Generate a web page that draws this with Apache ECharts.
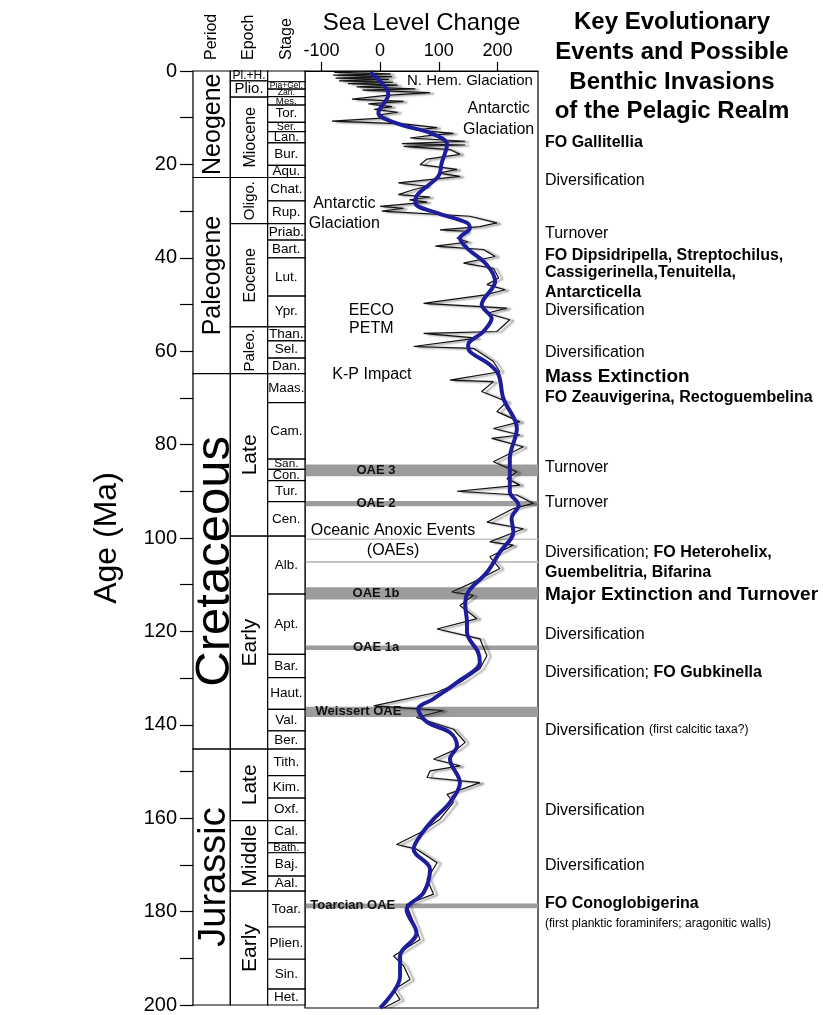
<!DOCTYPE html>
<html><head><meta charset="utf-8">
<script src="https://cdn.jsdelivr.net/npm/echarts@6/dist/echarts.min.js"></script>
<style>html,body{margin:0;padding:0;background:#fff}#c{width:823px;height:1015px}</style>
</head><body><div id="c"></div>
<script>
const FONT = '"Liberation Sans", Arial, Helvetica, sans-serif';

// ---------- axis ticks ----------
const ageTicks = [0,10,20,30,40,50,60,70,80,90,100,110,120,130,140,150,160,170,180,190,200];
const ageLabels = [0,20,40,60,80,100,120,140,160,180,200];
const seaTicks = [-100,0,100,200];

// ---------- time scale (Ma) ----------
const periods = [['Neogene',0,22.8],['Paleogene',22.8,64.8],['Cretaceous',64.8,145.2],['Jurassic',145.2,200]];
const epochs = [['Pl.+H.',0,2.1],['Plio.',2.1,5.6],['Miocene',5.6,22.8],['Oligo.',22.8,32.7],['Eocene',32.7,54.8],
  ['Paleo.',54.8,64.8],['Late',64.8,99.6],['Early',99.6,145.2],['Late',145.2,160.5],['Middle',160.5,175.6],['Early',175.6,200]];
const stages = [['',0,2.3],['Pia+Gel.',2.3,3.9],['Zan.',3.9,5.5],['Mes.',5.5,7.3],['Tor.',7.3,11.0],['Ser.',11.0,13.0],
  ['Lan.',13.0,15.4],['Bur.',15.4,20.2],['Aqu.',20.2,22.8],['Chat.',22.8,27.8],['Rup.',27.8,32.7],['Priab.',32.7,36.2],
  ['Bart.',36.2,40.0],['Lut.',40.0,48.2],['Ypr.',48.2,54.8],['Than.',54.8,57.8],['Sel.',57.8,61.5],['Dan.',61.5,64.8],
  ['Maas.',64.8,71.0],['Cam.',71.0,83.1],['San.',83.1,85.3],['Con.',85.3,87.7],['Tur.',87.7,92.2],['Cen.',92.2,99.6],
  ['Alb.',99.6,112.0],['Apt.',112.0,124.9],['Bar.',124.9,129.9],['Haut.',129.9,136.7],['Val.',136.7,141.3],['Ber.',141.3,145.2],
  ['Tith.',145.2,150.9],['Kim.',150.9,155.7],['Oxf.',155.7,160.5],['Cal.',160.5,165.3],['Bath.',165.3,167.4],['Baj.',167.4,172.4],
  ['Aal.',172.4,175.6],['Toar.',175.6,183.3],['Plien.',183.3,190.2],['Sin.',190.2,196.6],['Het.',196.6,200]];

// ---------- sea level (m) vs age (Ma) ----------
const shortTerm = [[-10,0],[-78,0.3],[18,0.6],[-80,0.9],[20,1.2],[-76,1.5],[15,1.8],[-70,2.1],[22,2.4],[-55,2.7],[30,3.0],
 [-40,3.4],[60,3.8],[-30,4.1],[85,4.6],[10,5.2],[-48,6.0],[40,6.5],[-20,7.0],[20,7.6],[-10,8.2],[30,8.8],[-5,9.4],[10,10.0],
 [-82,10.7],[40,11.3],[97,12.1],[60,12.6],[125,13.3],[90,13.7],[51,14.3],[145,15.0],[37,15.5],[145,15.8],[40,16.1],[120,16.8],
 [136,17.8],[80,18.8],[68,20.0],[131,21.0],[100,21.8],[136,22.5],[31,23.9],[80,24.6],[55,25.4],[31,26.4],[85,26.9],[50,27.5],
 [80,28.0],[0,28.9],[40,29.3],[3,29.9],[153,31],[199,32.4],[170,33.2],[102,33.9],[148,34.2],[131,35.7],[150,36.5],[94,37.4],
 [176,38.1],[196,39.6],[142,41],[193,42.1],[202,44.2],[182,45.6],[213,46.7],[179,47.8],[74,49.6],[216,50.6],[182,51.7],
 [221,53.1],[199,55.6],[74,56],[165,57],[57,58.8],[159,59.2],[193,62],[204,64.2],[119,66],[193,66.3],[173,68.4],[216,70.6],
 [199,72.7],[238,74.9],[193,76.3],[238,77.7],[190,78.4],[244,80.2],[193,83.4],[233,85.6],[216,87],[238,88.4],[131,89.7],
 [233,90.5],[261,92.3],[227,93.4],[182,96.3],[244,97.7],[187,100.5],[227,101.2],[187,103.7],[204,106.2],[159,109.1],
 [122,111.2],[159,111.9],[136,114.1],[165,116.9],[97,119.1],[170,121.2],[182,124.8],[170,127.6],[136,130.5],[97,132.6],
 [-11,135.5],[108,136.5],[62,138],[125,140.5],[145,143.3],[131,144.7],[91,146.9],[136,148.3],[85,149.4],[80,150.8],
 [170,151.9],[148,152.9],[114,154.4],[125,156.1],[102,159.7],[68,162.6],[28,165.1],[62,166.1],[97,169],[80,172.5],
 [91,175.7],[45,177.9],[57,181.8],[68,185.4],[23,188.9],[40,191],[51,193.9],[23,196.1],[34,198.2],[6,200]];
const longTerm = [[-17,0.3],[14,5],[-3,8.9],[34,11.4],[85,13.2],[114,15.7],[105,19.6],[99,22.5],[62,26.7],[60,28.2],[97,30.3],
 [148,32.4],[153,33.5],[136,35.7],[148,37.8],[182,41.4],[196,44.9],[173,49.9],[190,52.8],[176,55.6],[150,58.5],[153,59.9],
 [187,62.7],[202,64.9],[210,69.9],[233,76.3],[221,82.7],[221,89.8],[236,92.7],[224,95.5],[227,98.4],[204,102.7],[182,107],
 [150,111.2],[145,114.1],[148,117.6],[148,119.8],[167,124.1],[170,126.2],[131,130.5],[91,134],[65,136.2],[80,139],
 [119,141.2],[131,144],[119,146.9],[136,151.9],[119,156.1],[91,159.7],[68,163.3],[57,166.1],[85,170.4],[74,175.4],
 [45,179],[62,184],[34,188.9],[34,193.2],[0,200]];

// ---------- Oceanic anoxic events (Ma) ----------
const oaeBands = [[84.0,86.5,'OAE 3'],[91.8,92.9,'OAE 2'],[99.8,100.1,''],[104.6,105.0,''],[110.2,112.8,'OAE 1b'],
  [122.6,123.6,'OAE 1a'],[135.7,137.9,'Weissert OAE'],[177.7,178.7,'Toarcian OAE']];

// ---------- annotations inside plot [sea level, age, text] ----------
const plotNotes = [[153,2.1,'N. Hem. Glaciation'],[202,8.1,'Antarctic'],[202,12.4,'Glaciation'],[-61,28.2,'Antarctic'],
  [-61,32.5,'Glaciation'],[-15,51.2,'EECO'],[-15,54.9,'PETM'],[-14,64.9,'K-P Impact'],[22,98.0,'Oceanic Anoxic Events'],[22,102.3,'(OAEs)']];

// ---------- key events [age, text] ----------
const events = [
 [15.2,'{b|FO Gallitellia}'],[23.3,'{n|Diversification}'],[34.6,'{n|Turnover}'],
 [39.3,'{b|FO Dipsidripella, Streptochilus,}'],[43.1,'{b|Cassigerinella,Tenuitella,}'],[47.2,'{b|Antarcticella}'],
 [51.2,'{n|Diversification}'],[60.2,'{n|Diversification}'],[65.3,'{x|Mass Extinction}'],
 [69.8,'{b|FO Zeauvigerina, Rectoguembelina}'],[84.6,'{n|Turnover}'],[92.2,'{n|Turnover}'],
 [102.9,'{n|Diversification; }{b|FO Heterohelix,}'],[107.0,'{b|Guembelitria, Bifarina}'],
 [111.9,'{x|Major Extinction and Turnover}'],[120.4,'{n|Diversification}'],[128.5,'{n|Diversification; }{b|FO Gubkinella}'],
 [140.7,'{n|Diversification }{s|(first calcitic taxa?)}'],[157.8,'{n|Diversification}'],[169.6,'{n|Diversification}'],
 [177.7,'{b|FO Conoglobigerina}'],[182.1,'{s|(first planktic foraminifers; aragonitic walls)}']];

const titleLines = ['Key Evolutionary','Events and Possible','Benthic Invasions','of the Pelagic Realm'];
const columnHeads = ['Period','Epoch','Stage'];

// ---------- styles (kept apart from data) ----------
const periodFont = {Neogene:25, Paleogene:25, Cretaceous:49, Jurassic:38};
const epochFont = {'Pl.+H.':[12,false],'Plio.':[15,false],'Miocene':[16,true],'Oligo.':[15,true],'Eocene':[16,true],
  'Paleo.':[15,true],'Late':[21,true],'Early':[21,true],'Middle':[21,true]};
const oaeLabelPos = {'OAE 3':[-7,'center'],'OAE 2':[-7,'center'],'OAE 1b':[-7,'center'],'OAE 1a':[-7,'center'],
  'Weissert OAE':[-110,'left'],'Toarcian OAE':[-119,'left']};
const noteFont = {'N. Hem. Glaciation':15};
const X_MIN = -128, X_MAX = 269;

const cells = [];
periods.forEach(p => cells.push({col:0, name:p[0], s:p[1], e:p[2]}));
epochs.forEach(p => cells.push({col:1, name:p[0], s:p[1], e:p[2]}));
stages.forEach(p => cells.push({col:2, name:p[0], s:p[1], e:p[2]}));

const mctx = document.createElement('canvas').getContext('2d');
function textW(t, fs){ mctx.font = fs + 'px ' + FONT; return mctx.measureText(t).width; }

function renderCell(params, api){
  const c = cells[params.dataIndex];
  const p0 = api.coord([api.value(0), api.value(1)]);
  const p1 = api.coord([api.value(0)+1, api.value(2)]);
  const x = p0[0], y = p0[1], w = p1[0]-p0[0], h = p1[1]-p0[1];
  let fs, rot;
  if (c.col === 0) { fs = periodFont[c.name]; rot = true; }
  else if (c.col === 1) { fs = epochFont[c.name][0]; rot = epochFont[c.name][1]; }
  else {
    fs = Math.max(8.5, Math.min(13.5, h*1.15));
    while (fs > 8 && textW(c.name, fs) > w - 1) fs -= 0.25;
    rot = false;
  }
  return {type:'group', children:[
    {type:'rect', shape:{x:x, y:y, width:w, height:h}, style:{fill:'#fff', stroke:'#000', lineWidth:1.2}},
    {type:'text', x:x+w/2 + (rot ? fs*0.07 : 0), y:y+h/2, rotation: rot ? Math.PI/2 : 0,
     style:{text:c.name, fontSize:fs, fontFamily:FONT, fill:'#000', align:'center', verticalAlign:'middle'}}
  ]};
}

function renderBand(params, api){
  const b = oaeBands[params.dataIndex];
  const p0 = api.coord([X_MIN, api.value(0)]);
  const p1 = api.coord([X_MAX, api.value(1)]);
  const thin = b[2] === '';
  const children = [{type:'rect', shape:{x:p0[0], y:p0[1], width:p1[0]-p0[0], height:Math.max(1.5, p1[1]-p0[1])},
    style:{fill: thin ? '#c4c4c4' : '#9c9c9c'}}];
  if (!thin) {
    const lp = oaeLabelPos[b[2]];
    const pt = api.coord([lp[0], (api.value(0)+api.value(1))/2]);
    children.push({type:'text', x:pt[0], y:pt[1], z2:10,
      style:{text:b[2], fontSize:13, fontWeight:'bold', fontFamily:FONT, fill:'#111', align:lp[1], verticalAlign:'middle'}});
  }
  return {type:'group', children};
}

function renderNote(params, api){
  const n = plotNotes[params.dataIndex];
  const pt = api.coord([api.value(0), api.value(1)]);
  return {type:'text', x:pt[0], y:pt[1],
    style:{text:n[2], fontSize: noteFont[n[2]] || 16, fontFamily:FONT, fill:'#000', align:'center', verticalAlign:'middle'}};
}

const rich = {
  n:{fontSize:16, fontFamily:FONT, fill:'#000', color:'#000'},
  b:{fontSize:16, fontWeight:'bold', fontFamily:FONT, fill:'#000', color:'#000'},
  x:{fontSize:19, fontWeight:'bold', fontFamily:FONT, fill:'#000', color:'#000'},
  s:{fontSize:12, fontFamily:FONT, fill:'#000', color:'#000'}
};
function renderEvent(params, api){
  const ev = events[params.dataIndex];
  const pt = api.coord([0, api.value(1)]);
  return {type:'text', x:545, y:pt[1],
    style:{text:ev[1], rich:rich, fontFamily:FONT, fontSize:16, fill:'#000', align:'left', verticalAlign:'middle'}};
}

const graphics = [];
columnHeads.forEach((t,i) => graphics.push({type:'text', x:[212,249,287][i], y:60, rotation:Math.PI/2,
  style:{text:t, fontSize:16, fontFamily:FONT, fill:'#000', align:'left', verticalAlign:'middle'}}));
titleLines.forEach((t,i) => graphics.push({type:'text', x:672, y:[22,52,82,111][i],
  style:{text:t, fontSize:24, fontWeight:'bold', fontFamily:FONT, fill:'#000', align:'center', verticalAlign:'middle'}}));

const chart = echarts.init(document.getElementById('c'));
chart.setOption({
  animation:false,
  backgroundColor:'#fff',
  textStyle:{fontFamily:FONT},
  grid:[
    {left:305, top:71, width:233, height:937, show:true, borderColor:'#000', borderWidth:1.2, backgroundColor:'rgba(0,0,0,0)'},
    {left:193, top:71, width:112, height:937}
  ],
  xAxis:[
    {gridIndex:0, type:'value', position:'top', min:X_MIN, max:X_MAX,
     name:'Sea Level Change', nameLocation:'middle', nameGap:36,
     nameTextStyle:{fontSize:24, color:'#000', fontFamily:FONT},
     axisLine:{show:true, lineStyle:{color:'#000', width:1.2}},
     axisTick:{show:true, customValues:seaTicks, length:9, lineStyle:{color:'#000', width:1.2}},
     axisLabel:{show:true, customValues:seaTicks, fontSize:18, color:'#000', margin:11, fontFamily:FONT},
     splitLine:{show:false}},
    {gridIndex:1, type:'value', min:0, max:3, show:false}
  ],
  yAxis:[
    {gridIndex:0, type:'value', inverse:true, min:0, max:200, show:false},
    {gridIndex:1, type:'value', inverse:true, min:0, max:200, position:'left',
     name:'Age (Ma)', nameLocation:'middle', nameGap:70, nameRotate:90,
     nameTextStyle:{fontSize:32, color:'#000', fontFamily:FONT},
     axisLine:{show:true, lineStyle:{color:'#000', width:1.2}},
     axisTick:{show:true, customValues:ageTicks, length:13, lineStyle:{color:'#000', width:1.2}},
     axisLabel:{show:true, customValues:ageLabels, fontSize:20, color:'#000', margin:16, fontFamily:FONT},
     splitLine:{show:false}}
  ],
  graphic: graphics,
  series:[
    {type:'custom', xAxisIndex:1, yAxisIndex:1, renderItem:renderCell, silent:true, z:2,
     data: cells.map(c => [c.col, c.s, c.e])},
    {type:'custom', xAxisIndex:0, yAxisIndex:0, renderItem:renderBand, silent:true, z:1,
     data: oaeBands.map(b => [b[0], b[1]]), encode:{y:[0,1]}},
    {type:'line', xAxisIndex:0, yAxisIndex:0, data:shortTerm, symbol:'none', silent:true, z:3,
     lineStyle:{color:'#111', width:1.2, shadowColor:'rgba(0,0,0,0.5)', shadowBlur:2, shadowOffsetX:4, shadowOffsetY:1}},
    {type:'line', xAxisIndex:0, yAxisIndex:0, data:longTerm, symbol:'none', silent:true, z:4, smooth:0.35,
     lineStyle:{color:'#1e1e9c', width:4}},
    {type:'custom', xAxisIndex:0, yAxisIndex:0, renderItem:renderNote, silent:true, z:5,
     data: plotNotes.map(n => [n[0], n[1]])},
    {type:'custom', xAxisIndex:0, yAxisIndex:0, renderItem:renderEvent, silent:true, z:5, clip:false,
     data: events.map(e => [0, e[0]])}
  ]
});
</script></body></html>
